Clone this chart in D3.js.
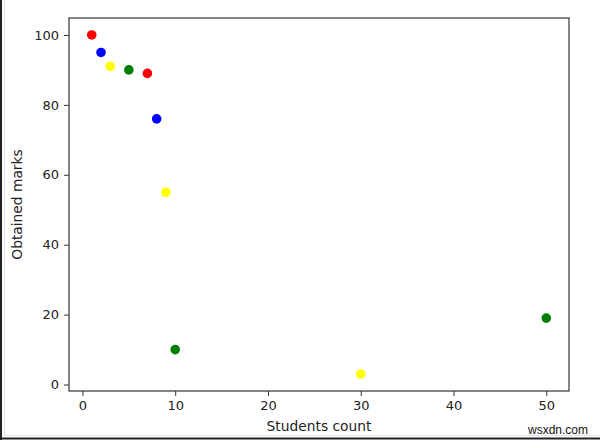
<!DOCTYPE html>
<html>
<head>
<meta charset="utf-8">
<script src="https://cdn.jsdelivr.net/npm/d3@7"></script>
<style>
  body { margin: 0; background: #fff; }
  svg { display: block; font-family: "DejaVu Sans", sans-serif; }
</style>
</head>
<body>
<svg width="600" height="440"></svg>
<script>
// data
var counts = [1, 2, 3, 5, 7, 8, 9, 10, 30, 50];
var marks = [100, 95, 91, 90, 89, 76, 55, 10, 3, 19];
var colors = ["red", "blue", "yellow", "green", "red", "blue", "yellow", "green", "yellow", "green"];
var xTicks = [0, 10, 20, 30, 40, 50];
var yTicks = [0, 20, 40, 60, 80, 100];

var svg = d3.select("svg"),
    width = +svg.attr("width"),
    height = +svg.attr("height");

var margin = {left: 69, right: 31, top: 18, bottom: 49};

// matplotlib-like 5% padding
var xPad = (d3.max(counts) - d3.min(counts)) * 0.05,
    yPad = (d3.max(marks) - d3.min(marks)) * 0.05;

var x = d3.scaleLinear()
    .domain([d3.min(counts) - xPad, d3.max(counts) + xPad])
    .range([margin.left, width - margin.right]);

var y = d3.scaleLinear()
    .domain([d3.min(marks) - yPad, d3.max(marks) + yPad])
    .range([height - margin.bottom, margin.top]);

// outer frame of the screenshot
svg.append("line").attr("x1", 1).attr("x2", 1).attr("y1", 0).attr("y2", 440)
    .attr("stroke", "#222").attr("stroke-width", 2);
svg.append("line").attr("x1", 0).attr("x2", 600).attr("y1", 438.5).attr("y2", 438.5)
    .attr("stroke", "#222").attr("stroke-width", 2);
svg.append("line").attr("x1", 4.5).attr("x2", 4.5).attr("y1", 0).attr("y2", 435)
    .attr("stroke", "#e4e4e4").attr("stroke-width", 1);
svg.append("line").attr("x1", 4).attr("x2", 600).attr("y1", 435.5).attr("y2", 435.5)
    .attr("stroke", "#e4e4e4").attr("stroke-width", 1);

var xAxis = svg.append("g")
    .attr("transform", "translate(0," + (height - margin.bottom) + ")")
    .call(d3.axisBottom(x).tickValues(xTicks).tickSize(5).tickPadding(5));

var yAxis = svg.append("g")
    .attr("transform", "translate(" + margin.left + ",0)")
    .call(d3.axisLeft(y).tickValues(yTicks).tickSize(5).tickPadding(5));

[xAxis, yAxis].forEach(function (g) {
    g.select(".domain").remove();
    g.selectAll(".tick line").attr("stroke", "#333");
    g.selectAll(".tick text").attr("font-size", 13).attr("fill", "#222")
        .attr("font-family", "DejaVu Sans, sans-serif");
});

// axes box
svg.append("rect")
    .attr("x", margin.left)
    .attr("y", margin.top)
    .attr("width", width - margin.left - margin.right)
    .attr("height", height - margin.top - margin.bottom)
    .attr("fill", "none")
    .attr("stroke", "#333")
    .attr("stroke-width", 1.2);

svg.append("g")
    .selectAll("circle")
    .data(counts)
    .enter().append("circle")
    .attr("cx", function (d) { return x(d); })
    .attr("cy", function (d, i) { return y(marks[i]); })
    .attr("r", 4.8)
    .style("fill", function (d, i) { return colors[i]; });

svg.append("text")
    .attr("x", (margin.left + width - margin.right) / 2)
    .attr("y", 431)
    .attr("text-anchor", "middle")
    .attr("font-size", 13.8)
    .attr("fill", "#222")
    .text("Students count");

svg.append("text")
    .attr("transform", "translate(22," + ((margin.top + height - margin.bottom) / 2) + ") rotate(-90)")
    .attr("text-anchor", "middle")
    .attr("font-size", 13.8)
    .attr("fill", "#222")
    .text("Obtained marks");

svg.append("text")
    .attr("x", 588)
    .attr("y", 434)
    .attr("text-anchor", "end")
    .attr("font-size", 12)
    .attr("fill", "#111")
    .attr("font-family", "Liberation Sans, sans-serif")
    .text("wsxdn.com");
</script>
</body>
</html>
